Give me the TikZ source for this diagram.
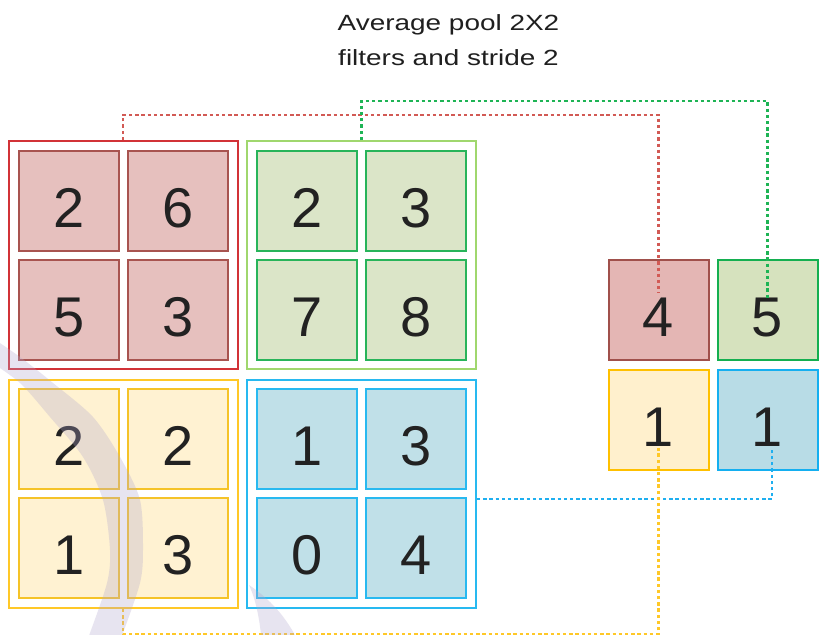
\documentclass[tikz,border=0pt]{standalone}
\usepackage{fontspec}
\setmainfont{Liberation Sans}
\usepackage{graphicx}
\definecolor{rFill}{RGB}{230,192,190}
\definecolor{rLine}{RGB}{168,84,80}
\definecolor{rOuter}{RGB}{210,50,55}
\definecolor{gFill}{RGB}{219,229,200}
\definecolor{gLine}{RGB}{40,180,90}
\definecolor{gOuter}{RGB}{160,215,110}
\definecolor{yFill}{RGB}{255,242,210}
\definecolor{yLine}{RGB}{245,195,40}
\definecolor{yOuter}{RGB}{255,200,40}
\definecolor{bFill}{RGB}{192,224,232}
\definecolor{bLine}{RGB}{40,185,240}
\definecolor{bOuter}{RGB}{40,185,240}
\definecolor{orFill}{RGB}{228,182,180}
\definecolor{orLine}{RGB}{160,80,75}
\definecolor{ogFill}{RGB}{214,226,190}
\definecolor{ogLine}{RGB}{20,175,80}
\definecolor{oyFill}{RGB}{255,240,205}
\definecolor{oyLine}{RGB}{255,192,0}
\definecolor{obFill}{RGB}{184,220,230}
\definecolor{obLine}{RGB}{20,175,240}
\definecolor{rDash}{RGB}{210,90,85}
\definecolor{gDash}{RGB}{30,180,85}
\definecolor{bDash}{RGB}{30,175,240}
\definecolor{yDash}{RGB}{255,200,40}
\definecolor{wmark}{RGB}{178,166,206}
\definecolor{digit}{RGB}{34,34,34}
\tikzset{
  cellbox/.style={draw, line width=2pt, minimum width=100pt, minimum height=100pt, inner sep=0pt,
     text height=52pt, text depth=0pt, text=digit, font=\fontsize{56}{56}\selectfont},
  outcell/.style={cellbox, text height=54pt},
  outerbox/.style={draw, line width=2pt, fill=white, minimum width=229pt, minimum height=228pt, inner sep=0pt},
  dotline/.style={line width=2.2pt, dash pattern=on 3.3pt off 2.9pt},
  titletext/.style={anchor=base, text=black!88, font=\fontsize{22}{26}\selectfont, inner sep=0pt}
}
\begin{document}
\begin{tikzpicture}[x=1pt,y=-1pt]
\useasboundingbox (0,0) rectangle (820,635);
\fill[white] (0,0) rectangle (820,635);

% title
\node[titletext] (t1) at (448.5,30) {\scalebox{1.27}[1]{Average pool 2X2}};
\node[titletext] (t2) at (448.5,65) {\scalebox{1.27}[1]{filters and stride 2}};

% outer boxes
\node[outerbox, draw=rOuter] (redbox) at (123,255) {};
\node[outerbox, draw=gOuter] (greenbox) at (361.5,255) {};
\node[outerbox, draw=yOuter] (yellowbox) at (123,494) {};
\node[outerbox, draw=bOuter] (bluebox) at (361.5,494) {};

% red cells
\node[cellbox, draw=rLine, fill=rFill] (r11) at (69,201) {2};
\node[cellbox, draw=rLine, fill=rFill] (r12) at (178,201) {6};
\node[cellbox, draw=rLine, fill=rFill] (r21) at (69,310) {5};
\node[cellbox, draw=rLine, fill=rFill] (r22) at (178,310) {3};
% green cells
\node[cellbox, draw=gLine, fill=gFill] (g11) at (307,201) {2};
\node[cellbox, draw=gLine, fill=gFill] (g12) at (416,201) {3};
\node[cellbox, draw=gLine, fill=gFill] (g21) at (307,310) {7};
\node[cellbox, draw=gLine, fill=gFill] (g22) at (416,310) {8};
% yellow cells
\node[cellbox, draw=yLine, fill=yFill] (y11) at (69,439) {2};
\node[cellbox, draw=yLine, fill=yFill] (y12) at (178,439) {2};
\node[cellbox, draw=yLine, fill=yFill] (y21) at (69,548) {1};
\node[cellbox, draw=yLine, fill=yFill] (y22) at (178,548) {3};
% blue cells
\node[cellbox, draw=bLine, fill=bFill] (b11) at (307,439) {1};
\node[cellbox, draw=bLine, fill=bFill] (b12) at (416,439) {3};
\node[cellbox, draw=bLine, fill=bFill] (b21) at (307,548) {0};
\node[cellbox, draw=bLine, fill=bFill] (b22) at (416,548) {4};

% output cells
\node[outcell, draw=orLine, fill=orFill] (redout) at (658.5,309.5) {4};
\node[outcell, draw=ogLine, fill=ogFill] (greenout) at (767.5,309.5) {5};
\node[outcell, draw=oyLine, fill=oyFill] (yellowout) at (658.5,419.5) {1};
\node[outcell, draw=obLine, fill=obFill] (blueout) at (767.5,419.5) {1};

% dotted connectors
\draw[dotline, rDash] (redbox.north) -- ++(0,-25) -| ([yshift=17pt]redout.center);
\draw[dotline, gDash] (greenbox.north) -- ++(0,-39) -| ([yshift=12pt]greenout.center);
\draw[dotline, bDash] ([yshift=-5pt]bluebox.east) -| ([xshift=4.5pt,yshift=-28.5pt]blueout.center);
\draw[dotline, yDash] (yellowbox.south) -- ++(0,25) -| ([yshift=-28.5pt]yellowout.center);

% faint watermark bands
\fill[wmark, opacity=0.3]
  plot[smooth] coordinates {(-12,335) (20,357) (53,383) (93,417) (120,457) (140,500) (143,550) (140,583) (123,633) (118,645)}
  -- plot[smooth] coordinates {(85,645) (90,633) (107,583) (110,550) (103,500) (83,457) (50,417) (20,383) (-12,360)}
  -- cycle;
\fill[wmark, opacity=0.3]
  (249,585) .. controls (268,598) and (286,615) .. (300,645) -- (262,645) .. controls (260,620) and (256,600) .. (249,585) -- cycle;
\end{tikzpicture}
\end{document}
